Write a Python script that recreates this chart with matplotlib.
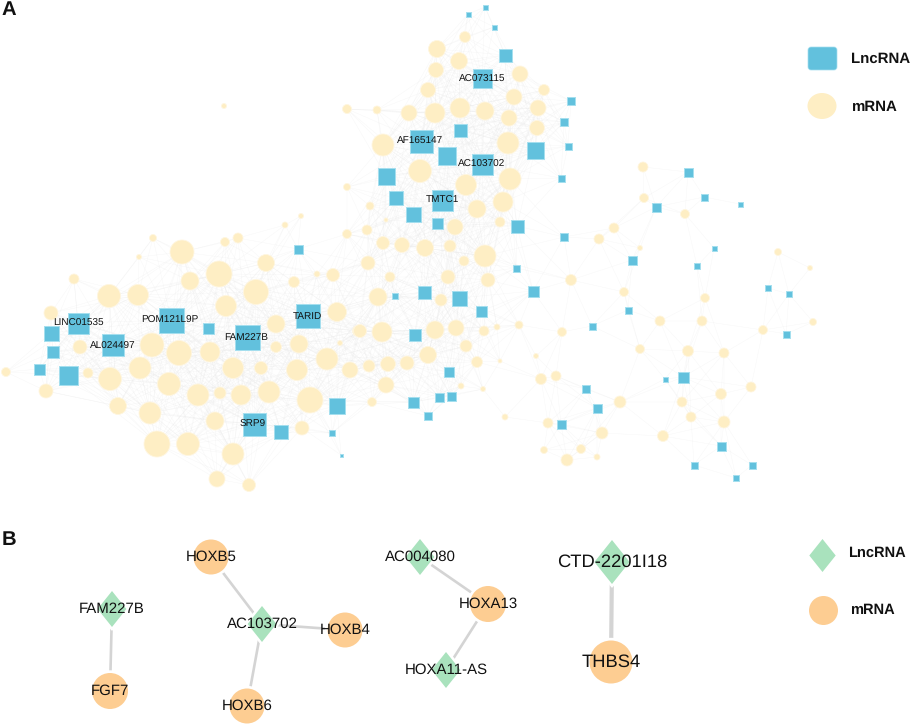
import matplotlib
matplotlib.use("Agg")
import matplotlib.pyplot as plt
import numpy as np
from matplotlib.collections import LineCollection
from matplotlib.patches import Ellipse, FancyBboxPatch
from matplotlib.path import Path

plt.rcParams["font.family"] = ["Liberation Sans", "DejaVu Sans"]
plt.rcParams["text.hinting"] = "no_hinting"

# panel A, node position and size
lnc_x = [78, 51, 53, 113, 39, 68, 171, 208, 247, 308, 298, 254, 281, 337, 332, 341,
         485, 468, 494, 505, 482, 571, 564, 568, 460, 421, 447, 482, 535, 386, 561, 396, 442, 413, 437, 517, 564,
         516, 424, 395, 459, 533, 481, 415, 449, 413, 439, 451, 428, 561,
         688, 704, 656, 740, 632, 714, 697, 768, 789, 628, 592, 786, 683, 665, 586, 597, 721, 694, 752, 736]
lnc_y = [323, 333, 352, 345, 369, 375, 320, 328, 337, 316, 249, 424, 432, 406, 433, 455,
         7, 14, 27, 55, 78, 101, 122, 146, 130, 141, 156, 164, 150, 176, 178, 198, 200, 214, 223, 226, 237,
         268, 292, 296, 298, 291, 311, 335, 372, 402, 397, 396, 416, 424,
         172, 197, 207, 204, 260, 248, 266, 288, 294, 310, 326, 334, 377, 379, 389, 408, 446, 465, 465, 478]
lnc_d = [21, 15, 12, 22, 11, 19, 25, 11, 25, 24, 9, 23, 14, 16, 6, 3,
         5, 5, 5, 13, 19, 8, 8, 7, 13, 23, 18, 21, 17, 17, 7, 14, 21, 15, 11, 13, 8,
         7, 13, 6, 15, 11, 11, 12, 10, 11, 9, 9, 8, 9,
         9, 7, 9, 5, 9, 5, 6, 6, 6, 7, 7, 7, 11, 5, 8, 9, 9, 7, 7, 6]

mrna_x = [182, 153, 139, 190, 219, 238, 225, 266, 294, 317, 333, 347, 285, 74, 109, 138, 256, 226, 51, 276, 337, 358,
          80, 152, 179, 210, 276, 299, 340, 327, 140, 233, 261, 297, 350, 88, 6, 110, 169, 46, 198, 220, 241, 269, 310,
          118, 150, 215, 302, 157, 188, 233, 217, 249,
          465, 437, 459, 436, 520, 428, 544, 514, 347, 377, 409, 435, 460, 485, 538, 509, 537, 383, 508, 420, 510, 466,
          503, 477, 347, 370, 386, 500, 455, 367,
          383, 402, 425, 450, 464, 485, 368, 390, 448, 488, 571, 378, 441, 360, 382, 435, 456, 484, 497, 519, 562,
          466, 428, 477, 500, 536, 369, 388, 407, 386, 461, 483, 372, 505, 541, 556, 548, 544, 567,
          643, 644, 685, 614, 599, 640, 778, 810, 624, 705, 813, 660, 702, 763, 640, 688, 724, 751, 721, 620, 682, 691,
          724, 602, 663, 581, 597, 224, 301]
mrna_y = [252, 238, 257, 281, 274, 238, 242, 263, 282, 274, 275, 234, 225, 279, 296, 295, 292, 306, 313, 324, 312, 331,
          347, 345, 353, 352, 347, 344, 343, 359, 368, 368, 368, 370, 370, 373, 372, 379, 384, 391, 395, 393, 395, 392, 400,
          406, 413, 421, 428, 444, 444, 454, 479, 485,
          37, 49, 61, 70, 74, 90, 90, 97, 109, 110, 113, 113, 108, 111, 108, 118, 128, 145, 143, 171, 179, 185,
          202, 209, 187, 206, 220, 222, 227, 230,
          243, 245, 248, 246, 261, 256, 263, 277, 277, 280, 280, 297, 300, 331, 332, 330, 328, 331, 327, 325, 332,
          346, 355, 362, 361, 356, 366, 364, 363, 385, 386, 389, 402, 417, 379, 376, 423, 450, 460,
          167, 198, 214, 228, 239, 248, 252, 268, 292, 298, 322, 321, 321, 330, 349, 351, 353, 387, 394, 402, 402, 417,
          422, 433, 436, 449, 457, 106, 216]
mrna_d = [23, 6, 4, 17, 25, 9, 8, 16, 10, 5, 12, 8, 5, 9, 22, 20, 24, 20, 13, 17, 18, 10,
          13, 23, 24, 19, 10, 17, 4, 21, 21, 20, 12, 20, 15, 9, 8, 22, 22, 13, 21, 11, 19, 21, 25,
          16, 21, 17, 13, 25, 22, 21, 15, 12,
          10, 16, 16, 14, 15, 14, 10, 15, 8, 7, 15, 19, 19, 17, 15, 15, 14, 21, 21, 22, 21, 20,
          19, 17, 6, 7, 3, 9, 15, 9,
          12, 14, 16, 11, 9, 21, 13, 9, 13, 13, 10, 17, 11, 12, 19, 17, 15, 9, 5, 7, 8,
          11, 16, 10, 3, 4, 11, 14, 13, 15, 5, 4, 8, 5, 10, 9, 9, 6, 11,
          9, 8, 8, 9, 9, 4, 6, 4, 8, 8, 6, 9, 9, 8, 8, 10, 9, 9, 10, 11, 9, 9,
          11, 11, 10, 8, 5, 4, 4]

lnc_labels = ["LINC01535", "AL024497", "POM121L9P", "FAM227B", "TARID", "SRP9",
              "AC073115", "AF165147", "AC103702", "TMTC1"]
lnc_label_x = [78, 113, 170, 246, 307, 253, 482, 420, 482, 442]
lnc_label_y = [323, 346, 320, 337, 316, 424, 79, 141, 164, 200]

# panel B
b_lnc = ["FAM227B", "AC103702", "AC004080", "HOXA11-AS", "CTD-2201I18"]
b_lnc_x = [112, 262, 420, 446, 612]
b_lnc_y = [609, 624, 557, 670, 562]
b_lnc_h = [36, 36, 36, 36, 44]
b_mrna = ["FGF7", "HOXB5", "HOXB4", "HOXB6", "HOXA13", "THBS4"]
b_mrna_x = [110, 211, 345, 247, 488, 611]
b_mrna_y = [691, 557, 630, 706, 604, 662]
b_mrna_d = [36, 35, 35, 35, 36, 43]
b_edges = [("FAM227B", "FGF7"), ("AC103702", "HOXB5"), ("AC103702", "HOXB4"), ("AC103702", "HOXB6"),
           ("AC004080", "HOXA13"), ("HOXA11-AS", "HOXA13"), ("CTD-2201I18", "THBS4")]


def to_area(d):
    # pixel diameter to scatter area in points^2
    return (np.asarray(d, dtype=float) * 0.72) ** 2


fig = plt.figure(figsize=(9.13, 7.26), dpi=100)
ax = fig.add_axes([0, 0, 1, 1])
ax.set_xlim(0, 913)
ax.set_ylim(726, 0)
ax.axis("off")

# the single links of panel A are too faint to trace, so they are estimated:
# two nodes are joined when they are close for their sizes
all_x = np.array(lnc_x + mrna_x, dtype=float)
all_y = np.array(lnc_y + mrna_y, dtype=float)
all_d = np.array(lnc_d + mrna_d, dtype=float)
links = []
for i in range(len(all_x)):
    for j in range(i + 1, len(all_x)):
        gap = np.hypot(all_x[i] - all_x[j], all_y[i] - all_y[j])
        if gap < 2.6 * (all_d[i] + all_d[j]) + 18:
            links.append([(all_x[i], all_y[i]), (all_x[j], all_y[j])])
ax.add_collection(LineCollection(links, colors="#e6e6e6", linewidths=0.3, alpha=0.35, zorder=1))

ax.scatter(mrna_x, mrna_y, s=to_area(np.array(mrna_d) + 1), c="#feeec4", edgecolors="#fff6e0", linewidths=0.6, zorder=2)
ax.scatter(lnc_x, lnc_y, s=to_area(lnc_d), c="#62c1dd", marker="s", edgecolors="#a5dfef", linewidths=0.7, zorder=3)

for name, x, y in zip(lnc_labels, lnc_label_x, lnc_label_y):
    ax.text(x, y, name, fontsize=7.2, ha="center", va="center", color="#111111", zorder=4)

# panel A legend
ax.add_patch(FancyBboxPatch((810, 49), 25, 19, boxstyle="round,pad=2,rounding_size=3",
                            fc="#62c1dd", ec="#a5dfef", lw=0.5))
ax.add_patch(Ellipse((822, 106), 29, 26, fc="#feeec4", ec="none"))
ax.text(851, 59, "LncRNA", fontsize=10.8, fontweight="bold", va="center", color="#111111")
ax.text(851, 107, "mRNA", fontsize=10.8, fontweight="bold", va="center", color="#111111")

# panel B
b_pos = {n: (x, y) for n, x, y in zip(b_lnc + b_mrna, b_lnc_x + b_mrna_x, b_lnc_y + b_mrna_y)}
for a, b in b_edges:
    lw = 3.0 if a == "CTD-2201I18" else 1.9
    ax.plot([b_pos[a][0], b_pos[b][0]], [b_pos[a][1], b_pos[b][1]], color="#d4d4d4", lw=lw, zorder=1)

# white underlay keeps the small gap between link ends and nodes
diamond = Path([(0, -1), (0.8, 0), (0, 1), (-0.8, 0), (0, -1)], closed=True)
ax.scatter(b_mrna_x, b_mrna_y, s=to_area(np.array(b_mrna_d) + 4), c="white", zorder=2)
ax.scatter(b_lnc_x, b_lnc_y, s=to_area(np.array(b_lnc_h) + 6), c="white", marker=diamond, zorder=2)
ax.scatter(b_mrna_x, b_mrna_y, s=to_area(b_mrna_d), c="#fdcd92", linewidths=0, zorder=3)
ax.scatter(b_lnc_x, b_lnc_y, s=to_area(b_lnc_h), c="#a9e2bd", marker=diamond, linewidths=0, zorder=3)

for name, x, y, h in zip(b_lnc, b_lnc_x, b_lnc_y, b_lnc_h):
    ax.text(x, y, name, fontsize=13.2 if h > 40 else 10.8, ha="center", va="center", color="#111111", zorder=4)
for name, x, y, d in zip(b_mrna, b_mrna_x, b_mrna_y, b_mrna_d):
    ax.text(x, y, name, fontsize=13.2 if d > 40 else 10.8, ha="center", va="center", color="#111111", zorder=4)

# panel B legend
ax.scatter([822], [555], s=to_area([33]), c="#a9e2bd", marker=diamond, linewidths=0, zorder=2)
ax.scatter([823], [610], s=to_area([29]), c="#fdcd92", linewidths=0, zorder=2)
ax.text(848, 553, "LncRNA", fontsize=10.5, fontweight="bold", va="center", color="#111111")
ax.text(850, 610, "mRNA", fontsize=10.5, fontweight="bold", va="center", color="#111111")

ax.text(2, 10, "A", fontsize=14.6, fontweight="bold", va="center", color="#111111")
ax.text(2, 540, "B", fontsize=14.6, fontweight="bold", va="center", color="#111111")

fig.savefig("out.png", dpi=100, facecolor="white")
